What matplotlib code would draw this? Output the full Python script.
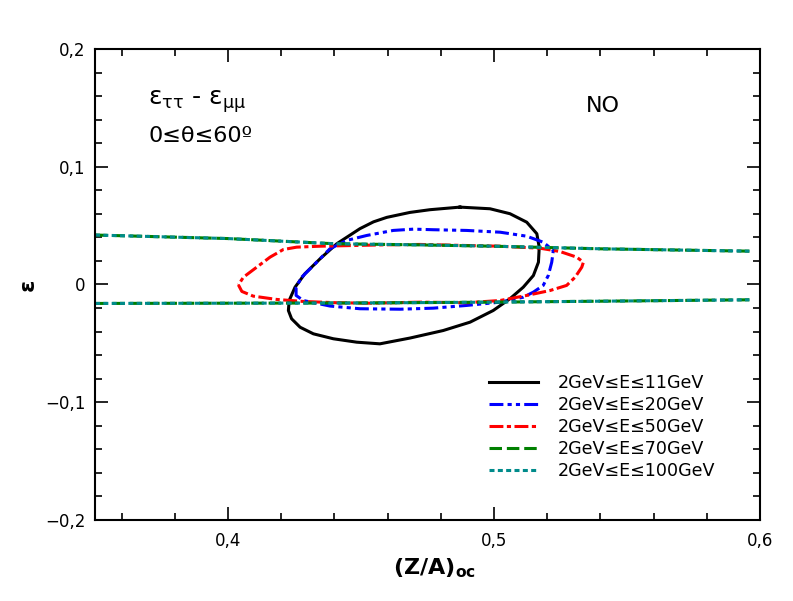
import matplotlib
matplotlib.use('Agg')
import matplotlib.pyplot as plt
from matplotlib.ticker import MultipleLocator, FuncFormatter

plt.rcParams['font.family'] = ['DejaVu Sans']
plt.rcParams['lines.scale_dashes'] = False

# contours: (Z/A)oc vs epsilon
black_x = [0.4872, 0.4985, 0.5060, 0.5123, 0.5161, 0.5170, 0.5167, 0.5148, 0.5110, 0.5060,
           0.4997, 0.4910, 0.4809, 0.4684, 0.4571, 0.4484, 0.4396, 0.4321, 0.4271, 0.4239,
           0.4227, 0.4230, 0.4252, 0.4289, 0.4346, 0.4409, 0.4496, 0.4547, 0.4597, 0.4684, 0.4759, 0.4872]
black_y = [0.0657, 0.0643, 0.0601, 0.0529, 0.0431, 0.0317, 0.0189, 0.0076, -0.0023, -0.0121,
           -0.0221, -0.0320, -0.0391, -0.0455, -0.0504, -0.0490, -0.0461, -0.0419, -0.0363, -0.0291,
           -0.0221, -0.0136, -0.0023, 0.0091, 0.0218, 0.0346, 0.0474, 0.0532, 0.0570, 0.0612, 0.0635, 0.0657]

blue_x = [0.4277, 0.4321, 0.4383, 0.4446, 0.4521, 0.4621, 0.4697, 0.4772, 0.4897, 0.5023,
          0.5123, 0.5185, 0.5223, 0.5217, 0.5204, 0.5185, 0.5148, 0.5110, 0.5023, 0.4897,
          0.4772, 0.4647, 0.4496, 0.4383, 0.4283, 0.4256, 0.4256, 0.4277]
blue_y = [0.0062, 0.0161, 0.0303, 0.0374, 0.0416, 0.0459, 0.0470, 0.0465, 0.0459, 0.0444,
          0.0410, 0.0359, 0.0289, 0.0189, 0.0076, -0.0008, -0.0065, -0.0108, -0.0150, -0.0178,
          -0.0201, -0.0210, -0.0206, -0.0183, -0.0136, -0.0093, -0.0023, 0.0062]

red_x = [0.4039, 0.4052, 0.4095, 0.4183, 0.4283, 0.4409, 0.4534, 0.4722, 0.4897, 0.5023,
         0.5123, 0.5211, 0.5273, 0.5305, 0.5330, 0.5336, 0.5311, 0.5248, 0.5173, 0.5023,
         0.4897, 0.4722, 0.4597, 0.4471, 0.4346, 0.4258, 0.4208, 0.4158, 0.4108, 0.4058, 0.4039]
red_y = [-0.0003, -0.0059, -0.0099, -0.0127, -0.0144, -0.0155, -0.0159, -0.0150, -0.0155, -0.0136,
         -0.0093, -0.0051, -0.0008, 0.0062, 0.0147, 0.0189, 0.0232, 0.0280, 0.0308, 0.0325,
         0.0331, 0.0340, 0.0337, 0.0331, 0.0325, 0.0317, 0.0297, 0.0232, 0.0147, 0.0062, -0.0003]

# 70 GeV and 100 GeV give almost the same band
band_up_x = [0.35, 0.40, 0.44, 0.47, 0.50, 0.54, 0.596]
band_up_y = [0.0420, 0.0390, 0.0346, 0.0337, 0.0325, 0.0303, 0.0283]
band_lo_x = [0.35, 0.40, 0.45, 0.50, 0.55, 0.596]
band_lo_y = [-0.0161, -0.0159, -0.0157, -0.0150, -0.0140, -0.0130]

labels = ['2GeV≤E≤11GeV', '2GeV≤E≤20GeV', '2GeV≤E≤50GeV', '2GeV≤E≤70GeV', '2GeV≤E≤100GeV']

fig = plt.figure(figsize=(7.93, 6.01), dpi=100)
ax = fig.add_axes([0.1198, 0.1348, 0.8386, 0.7837])

lw = 2.2
ax.plot(black_x, black_y, color='black', lw=lw, label=labels[0])
ax.plot(blue_x, blue_y, color='#0000ff', lw=lw, dashes=(10, 3, 3, 3, 3, 3), label=labels[1])
ax.plot(red_x, red_y, color='#ff0000', lw=lw, dashes=(10, 2.5, 3, 2.5), label=labels[2])
ax.plot(band_up_x, band_up_y, color='#008000', lw=lw, dashes=(9, 3.5), label=labels[3])
ax.plot(band_lo_x, band_lo_y, color='#008000', lw=lw, dashes=(9, 3.5))
ax.plot(band_up_x, band_up_y, color='#008b8b', lw=lw, dashes=(3.6, 2.4), label=labels[4])
ax.plot(band_lo_x, band_lo_y, color='#008b8b', lw=lw, dashes=(3.6, 2.4))

ax.set_xlim(0.35, 0.6)
ax.set_ylim(-0.2, 0.2)
ax.xaxis.set_major_locator(MultipleLocator(0.1))
ax.xaxis.set_minor_locator(MultipleLocator(0.02))
ax.yaxis.set_major_locator(MultipleLocator(0.1))
ax.yaxis.set_minor_locator(MultipleLocator(0.02))


def comma_fmt(v, pos):
    if abs(v) < 1e-9:
        return '0'
    return f'{v:.1f}'.replace('.', ',').replace('-', '\u2212')


ax.xaxis.set_major_formatter(FuncFormatter(comma_fmt))
ax.yaxis.set_major_formatter(FuncFormatter(comma_fmt))
ax.tick_params(which='both', direction='in', top=True, right=True, width=1.2, labelsize=12)
ax.tick_params(which='major', length=9.5)
ax.tick_params(which='minor', length=5)
ax.tick_params(axis='x', which='major', pad=9)
ax.tick_params(axis='y', which='major', pad=7)
for s in ax.spines.values():
    s.set_linewidth(1.5)

ax.set_xlabel(r'$\mathbf{(Z/A)_{oc}}$', fontsize=16)
ax.xaxis.set_label_coords(0.511, -0.078)
ax.set_ylabel('ε', fontsize=16, fontweight='bold')
ax.yaxis.set_label_coords(-0.086, 0.5)

ax.text(0.08, 0.881, r'ε$_\mathregular{ττ}$ - ε$_\mathregular{μμ}$', transform=ax.transAxes,
        fontsize=18, va='baseline')
ax.text(0.08, 0.803, '0≤θ≤60º', transform=ax.transAxes, fontsize=16, va='baseline')
ax.text(0.738, 0.867, 'NO', transform=ax.transAxes, fontsize=16, va='baseline')

ax.legend(loc='upper left', bbox_to_anchor=(0.569, 0.343), frameon=False, fontsize=12.6,
          handlelength=2.8, handletextpad=1.14, labelspacing=0.23)

fig.savefig('out.png', dpi=100)
